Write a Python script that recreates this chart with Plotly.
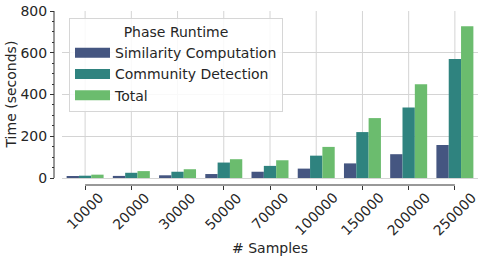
import colorsys
import plotly.graph_objects as go

categories = ["10000", "20000", "30000", "50000", "70000", "100000", "150000", "200000", "250000"]
similarity = [5, 10, 13, 19, 30, 45, 70, 114, 158]
community = [11, 25, 30, 74, 58, 107, 220, 338, 570]
total = [16, 33, 42, 90, 85, 149, 287, 449, 727]
series_names = ["Similarity Computation", "Community Detection", "Total"]
y_ticks = [0, 200, 400, 600, 800]
x_title = "# Samples"
y_title = "Time (seconds)"
legend_title = "Phase Runtime"


def desat(hexc, prop=0.75):
    r, g, b = (int(hexc[i:i + 2], 16) / 255 for i in (1, 3, 5))
    h, l, s = colorsys.rgb_to_hls(r, g, b)
    r, g, b = colorsys.hls_to_rgb(h, l, s * prop)
    return "#%02x%02x%02x" % (round(r * 255), round(g * 255), round(b * 255))


colors = [desat(c) for c in ["#3b528b", "#21918c", "#5ec962"]]
font = "DejaVu Sans"
ink = "#262626"
spine = "#333333"
grid = "#d4d4d4"
fs = 14

W, H = 486, 261
ml, mr, mt, mb = 54, 8, 11, 76
pw, ph = W - ml - mr, H - mt - mb
xoff, yoff = 8, 7
ymax = y_ticks[-1]
ymin = -yoff * ymax / (ph - yoff)
idx = list(range(len(categories)))

fig = go.Figure()
for name, vals, col in zip(series_names, [similarity, community, total], colors):
    fig.add_trace(go.Bar(x=categories, y=vals, name=name, showlegend=False,
                         marker=dict(color=col, line=dict(width=0))))
# legend swatches (wide rectangles like matplotlib)
for name, col in zip(series_names, colors):
    fig.add_trace(go.Scatter(x=[None], y=[None], mode="lines", name=name,
                             line=dict(color=col, width=10)))

fig.update_layout(
    width=W, height=H,
    margin=dict(l=ml, r=mr, t=mt, b=mb, autoexpand=False),
    paper_bgcolor="white", plot_bgcolor="white",
    barmode="group", bargap=0.2, bargroupgap=0,
    font=dict(family=font, size=fs, color=ink),
    xaxis=dict(
        type="category", categoryorder="array", categoryarray=categories,
        domain=[xoff / pw, 1], range=[-0.5, len(categories) - 0.5],
        showgrid=False, automargin=False, showticklabels=False,
        ticks="outside", ticklen=4, tickcolor=spine, tickwidth=1,
        showline=False, zeroline=False,
    ),
    yaxis=dict(
        anchor="free", position=0, range=[ymin, ymax], automargin=False,
        tickvals=y_ticks, showgrid=True, gridcolor=grid, gridwidth=1,
        ticks="outside", ticklen=4, tickcolor=spine, tickwidth=1,
        showline=False, zeroline=False,
        minor=dict(tickvals=list(range(0, ymax + 1, 50)), ticks="outside", ticklen=2,
                   tickcolor=spine, showgrid=False),
        tickfont=dict(size=fs, color=ink),
    ),
    legend=dict(
        x=(69 - ml) / pw, y=(H - mb - 18) / ph, xanchor="left", yanchor="top",
        bgcolor="rgba(255,255,255,0.85)", bordercolor="#d6d6d6", borderwidth=1,
        font=dict(size=fs, color=ink), itemwidth=35,
        title=dict(text=legend_title, side="top center", font=dict(size=fs, color=ink)),
        tracegroupgap=0,
    ),
    showlegend=True,
)

# rotated category labels centred under each tick (matplotlib style)
for i, c in zip(idx, categories):
    fig.add_annotation(text=c, x=i, xref="x", y=0, yref="paper", yshift=-2,
                       xanchor="center", yanchor="top", textangle=-45, showarrow=False,
                       font=dict(size=fs, color=ink))
# axis titles
fig.add_annotation(text=x_title, xref="x domain", x=0.5, yref="paper", y=(H - mb - 248) / ph,
                   xanchor="center", yanchor="middle", showarrow=False, font=dict(size=fs, color=ink))
fig.add_annotation(text=y_title, xref="paper", x=(10 - ml) / pw, yref="paper", y=(H - mb - 94.5) / ph,
                   xanchor="center", yanchor="middle", textangle=-90, showarrow=False,
                   font=dict(size=fs, color=ink))

# vertical grid lines from 0 to top, behind the bars
for i in idx:
    fig.add_shape(type="line", xref="x", yref="y", x0=i, x1=i, y0=0, y1=ymax,
                  line=dict(color=grid, width=1), layer="below")
# trimmed, offset spines
fig.add_shape(type="line", xref="x", yref="paper", x0=idx[0], x1=idx[-1],
              y0=0, y1=0, line=dict(color=spine, width=1))
fig.add_shape(type="line", xref="paper", yref="y", x0=0, x1=0, y0=0, y1=ymax,
              line=dict(color=spine, width=1))

fig.write_html("out.html", config={"displayModeBar": False},
               post_script="document.body.style.margin='0';")
